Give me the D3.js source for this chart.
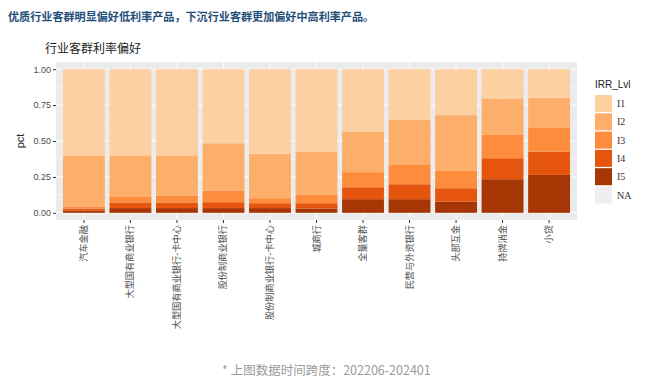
<!DOCTYPE html>
<html><head><meta charset="utf-8">
<script src="https://cdn.jsdelivr.net/npm/d3@7"></script>
<style>body{margin:0;background:#fff;}svg{display:block;font-family:"Noto Sans CJK SC","Noto Sans",sans-serif;}</style>
</head><body><svg id="c" width="650" height="381"></svg>
<script>
const categories = ["汽车金融","大型国有商业银行","大型国有商业银行-卡中心","股份制商业银行","股份制商业银行-卡中心","城商行","全量客群","民营与外资银行","头部互金","持牌消金","小贷"];
const levels = ["I1","I2","I3","I4","I5"];
const I5 = [0.015,0.033,0.033,0.033,0.033,0.030,0.095,0.095,0.078,0.234,0.264];
const I4 = [0.015,0.039,0.039,0.041,0.034,0.037,0.083,0.104,0.093,0.146,0.162];
const I3 = [0.015,0.038,0.046,0.081,0.035,0.058,0.105,0.134,0.121,0.162,0.169];
const I2 = [0.355,0.290,0.282,0.329,0.308,0.301,0.282,0.313,0.388,0.254,0.205];
const I1 = [0.600,0.600,0.600,0.516,0.590,0.574,0.435,0.354,0.320,0.204,0.200];
const yTicks = [0,0.25,0.5,0.75,1];
const colors = {I1:"#FDD0A2",I2:"#FDAE6B",I3:"#FD8D3C",I4:"#E6550D",I5:"#A63603",NA:"#EFEFEF"};

const svg = d3.select("#c");
const series = {I1,I2,I3,I4,I5};
const rows = categories.map((c,i)=>{const r={cat:c};levels.forEach(l=>r[l]=series[l][i]);return r;});
const stack = d3.stack().keys(["I5","I4","I3","I2","I1"])(rows);

const pL=56, pR=577, pT=62, pB=220;
// discrete axis with ggplot-style expansion (0.6 units each side)
const x = d3.scaleLinear().domain([-0.6, categories.length-0.4]).range([pL,pR]);
const unit = x(1)-x(0);
const xc = i => x(i);
const y = d3.scaleLinear().domain([-0.05,1.05]).range([pB,pT]);

svg.append("text").attr("x",8).attr("y",21).attr("fill","#1F4E79").attr("font-weight","bold").attr("font-size",11.1).text("优质行业客群明显偏好低利率产品，下沉行业客群更加偏好中高利率产品。");
svg.append("text").attr("x",45).attr("y",53).attr("fill","#222").attr("font-size",12).text("行业客群利率偏好");

svg.append("rect").attr("x",pL).attr("y",pT).attr("width",pR-pL).attr("height",pB-pT).attr("fill","#EBEBEB");
[0.125,0.375,0.625,0.875].forEach(v=>svg.append("line").attr("x1",pL).attr("x2",pR).attr("y1",y(v)).attr("y2",y(v)).attr("stroke","#fff").attr("stroke-width",0.5));
yTicks.forEach(v=>svg.append("line").attr("x1",pL).attr("x2",pR).attr("y1",y(v)).attr("y2",y(v)).attr("stroke","#fff").attr("stroke-width",1));
categories.forEach((c,i)=>svg.append("line").attr("x1",xc(i)).attr("x2",xc(i)).attr("y1",pT).attr("y2",pB).attr("stroke","#fff").attr("stroke-width",1));

const bw = unit*0.9;
stack.forEach(s=>{
  svg.append("g").selectAll("rect").data(s).join("rect")
    .attr("x",(d,i)=>xc(i)-bw/2).attr("width",bw)
    .attr("y",d=>y(d[1])).attr("height",d=>y(d[0])-y(d[1]))
    .attr("fill",colors[s.key]);
});

const yAxis = d3.axisLeft(y).tickValues(yTicks).tickFormat(d3.format(".2f")).tickSize(3).tickPadding(2);
const ga = svg.append("g").attr("transform",`translate(${pL},0)`).call(yAxis);
ga.select(".domain").remove();
ga.selectAll("line").attr("stroke","#333");
ga.selectAll("text").attr("fill","#4D4D4D").attr("font-size",9).attr("font-family","Liberation Sans, Arial, sans-serif");
svg.append("text").attr("transform",`translate(24,${(pT+pB)/2}) rotate(-90)`).attr("text-anchor","middle").attr("font-size",11).attr("fill","#222").attr("font-family","Liberation Sans, Arial, sans-serif").text("pct");

const gx = svg.append("g");
categories.forEach((c,i)=>{
  gx.append("line").attr("x1",xc(i)).attr("x2",xc(i)).attr("y1",pB).attr("y2",pB+3).attr("stroke","#333");
  gx.append("text").attr("transform",`translate(${xc(i)+3},${pB+5}) rotate(-90)`).attr("text-anchor","end").attr("font-size",9.2).attr("fill","#4D4D4D").text(c);
});

const lg = svg.append("g");
lg.append("text").attr("x",595).attr("y",88).attr("font-size",10).attr("fill","#222").attr("font-family","Liberation Sans, Arial, sans-serif").text("IRR_Lvl");
levels.concat(["NA"]).forEach((l,i)=>{
  const yy = 95 + i*18.3;
  lg.append("rect").attr("x",595).attr("y",yy).attr("width",17).attr("height",17).attr("fill",colors[l]);
  lg.append("text").attr("x",617).attr("y",yy+12).attr("font-size",10).attr("fill","#333").attr("font-family","Liberation Serif, serif").text(l);
});

svg.append("text").attr("x",222).attr("y",375).attr("font-size",12.5).attr("fill","#9A9A9A").text("* 上图数据时间跨度：202206-202401");
</script></body></html>
